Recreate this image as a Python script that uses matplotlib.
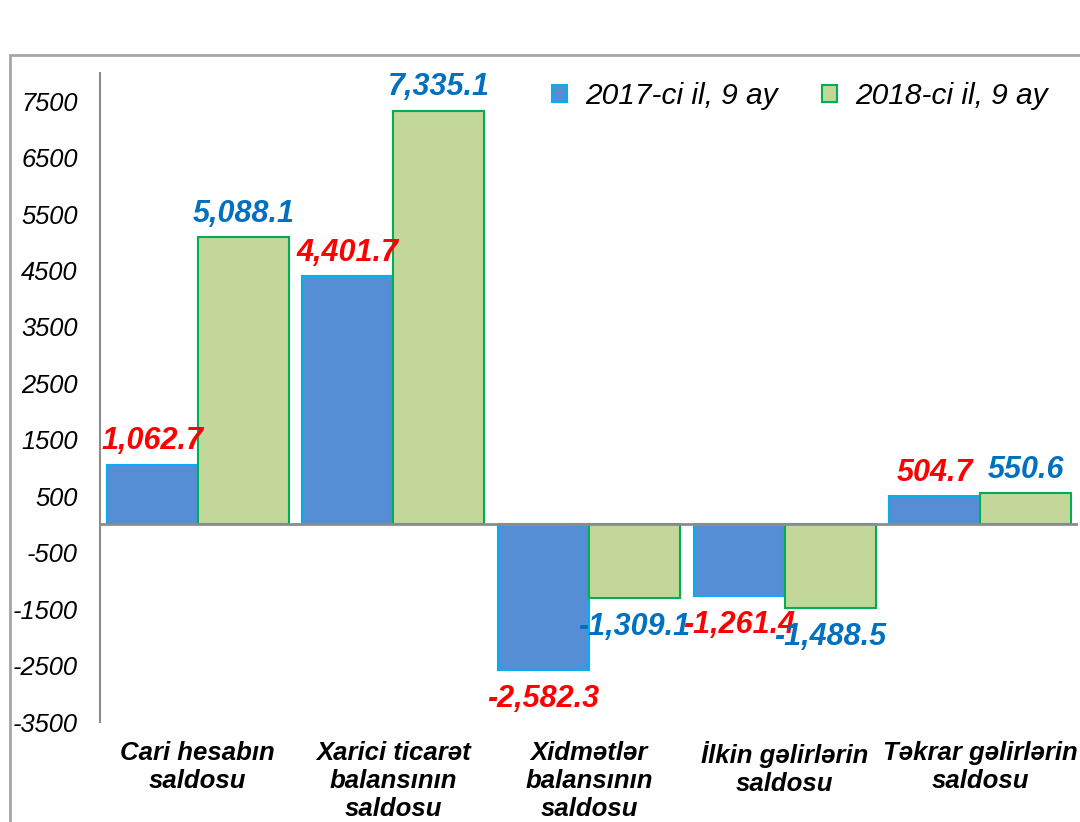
import matplotlib
matplotlib.use("Agg")
import matplotlib.pyplot as plt
from matplotlib.patches import Rectangle
import numpy as np

# Данные
categories = ['Cari hesabın\nsaldosu', 'Xarici ticarət\nbalansının\nsaldosu',
              'Xidmətlər\nbalansının\nsaldosu', 'İlkin gəlirlərin\nsaldosu',
              'Təkrar gəlirlərin\nsaldosu']
series_names = ['2017-ci il, 9 ay', '2018-ci il, 9 ay']
values_2017 = [1062.7, 4401.7, -2582.3, -1261.4, 504.7]
values_2018 = [5088.1, 7335.1, -1309.1, -1488.5, 550.6]
y_ticks = list(range(-3500, 7501, 1000))

plt.rcParams['font.family'] = ['Liberation Sans', 'DejaVu Sans']

fig = plt.figure(figsize=(10.8, 8.22), dpi=100)
ax = fig.add_axes([100 / 1080, 1 - 722 / 822, 978 / 1080, 649 / 822])

# внешняя рамка
fig.patches.append(Rectangle((10 / 1080, -0.1), 1.2, 1 - 55 / 822 + 0.1,
                             transform=fig.transFigure, fill=False,
                             edgecolor='#a6a6a6', linewidth=2))

x = np.arange(len(categories))
w = 0.465
b1 = ax.bar(x - w / 2, values_2017, w, color='#558ed5', edgecolor='#00b0f0',
            linewidth=1.5, label=series_names[0], zorder=2)
b2 = ax.bar(x + w / 2, values_2018, w, color='#c4d79b', edgecolor='#00b050',
            linewidth=1.5, label=series_names[1], zorder=2)

ax.set_xlim(-0.5, 4.5)
ax.set_ylim(-3500, 8000)
ax.set_yticks(y_ticks)
ax.set_yticklabels([str(t) for t in y_ticks], fontsize=18.4, style='italic')
ax.tick_params(axis='y', length=0, pad=16)
ax.set_xticks([])

for s in ['top', 'right', 'bottom']:
    ax.spines[s].set_visible(False)
ax.spines['left'].set_color('#8c8c8c')
ax.spines['left'].set_linewidth(1.5)
ax.axhline(0, color='#8c8c8c', linewidth=2, zorder=3)

# подписи значений
def label_bars(bars, vals, color):
    for bar, v in zip(bars, vals):
        cx = bar.get_x() + bar.get_width() / 2
        txt = f'{v:,.1f}'
        if v >= 0:
            ax.annotate(txt, (cx, v), xytext=(0, 6), textcoords='offset points',
                        ha='center', va='bottom', fontsize=22, color=color,
                        fontweight='bold', style='italic', zorder=5)
        else:
            ax.annotate(txt, (cx, v), xytext=(0, -10), textcoords='offset points',
                        ha='center', va='top', fontsize=22, color=color,
                        fontweight='bold', style='italic', zorder=5)

label_bars(b1, values_2017, '#ff0000')
label_bars(b2, values_2018, '#0070c0')

# подписи категорий
for i, c in enumerate(categories):
    ax.annotate(c, (i, -3500), xytext=(0, -14), textcoords='offset points',
                ha='center', va='top', fontsize=18.5, fontweight='bold',
                style='italic', linespacing=1.2, annotation_clip=False)

leg = ax.legend(loc='upper left', bbox_to_anchor=(552 / 1080, 1 - 82 / 822),
                bbox_transform=fig.transFigure, ncol=2, frameon=False,
                prop={'size': 21.5, 'style': 'italic'}, handlelength=0.5,
                handleheight=0.5, columnspacing=1.5, handletextpad=0.6,
                borderaxespad=0, borderpad=0)

fig.savefig('out.png', dpi=100)
